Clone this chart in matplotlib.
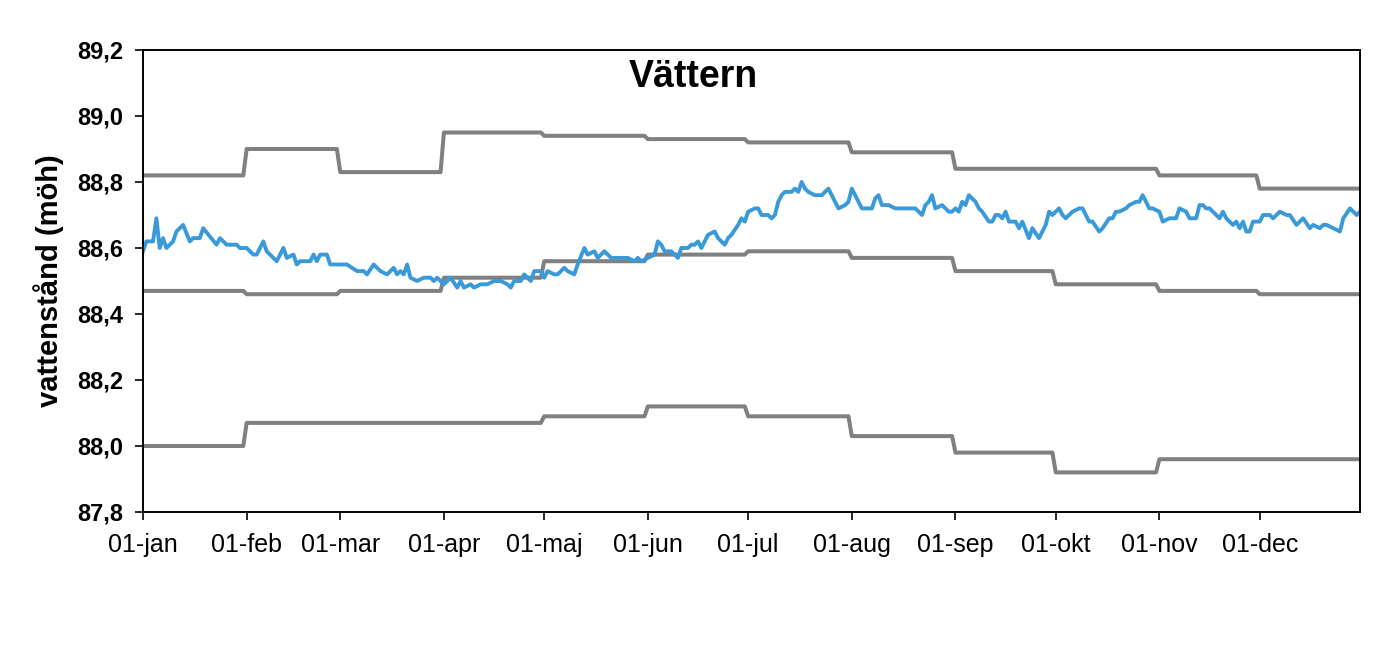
import numpy as np
import matplotlib
matplotlib.use('Agg')
import matplotlib.pyplot as plt

plt.rcParams['font.family'] = ['Liberation Sans', 'DejaVu Sans']

# månadsstart (dag på året) och etiketter
month_start = [0, 31, 59, 90, 120, 151, 181, 212, 243, 273, 304, 334]
month_len = [31, 28, 31, 30, 31, 30, 31, 31, 30, 31, 30, 31]
month_labels = ['01-jan', '01-feb', '01-mar', '01-apr', '01-maj', '01-jun',
                '01-jul', '01-aug', '01-sep', '01-okt', '01-nov', '01-dec']

# månadsvärden (möh)
max_level = [88.82, 88.90, 88.83, 88.95, 88.94, 88.93,
             88.92, 88.89, 88.84, 88.84, 88.82, 88.78]
mean_level = [88.47, 88.46, 88.47, 88.51, 88.56, 88.58,
              88.59, 88.57, 88.53, 88.49, 88.47, 88.46]
min_level = [88.00, 88.07, 88.07, 88.07, 88.09, 88.12,
             88.09, 88.03, 87.98, 87.92, 87.96, 87.96]

# aktuellt vattenstånd: dag på året och nivå (möh)
obs_day = [
    0, 1, 3, 4, 5, 6, 7, 9, 10, 12,
    14, 15, 17, 18, 22, 23, 25, 28, 29, 31,
    33, 34, 36, 37, 40, 42, 43, 45, 46, 47,
    48, 50, 51, 52, 53, 55, 56, 59, 61, 64,
    66, 67, 69, 71, 73, 75, 76, 77, 78, 79,
    80, 82, 84, 86, 87, 88, 90, 92, 94, 95,
    96, 98, 99, 101, 103, 105, 107, 109, 110, 111,
    113, 114, 116, 117, 119, 120, 121, 123, 124, 126,
    127, 129, 130, 132, 133, 135, 136, 138, 140, 141,
    143, 145, 147, 148, 149, 151, 153, 154, 155, 156,
    158, 160, 161, 163, 164, 165, 166, 167, 169, 171,
    172, 174, 175, 176, 178, 179, 180, 181, 183, 184,
    185, 187, 188, 189, 190, 191, 192, 194, 195, 196,
    197, 198, 199, 201, 202, 203, 205, 206, 207, 208,
    210, 211, 212, 214, 215, 218, 219, 220, 221, 223,
    225, 231, 233, 234, 235, 236, 237, 239, 241, 242,
    243, 244, 245, 246, 247, 249, 250, 251, 253, 254,
    255, 256, 257, 258, 259, 261, 262, 263, 265, 266,
    268, 270, 271, 272, 274, 275, 276, 278, 280, 281,
    283, 284, 286, 287, 289, 290, 291, 292, 294, 295,
    297, 298, 299, 301, 302, 304, 305, 307, 308, 309,
    310, 312, 313, 315, 316, 317, 318, 319, 320, 322,
    323, 324, 326, 327, 328, 329, 330, 331, 332, 334,
    335, 337, 338, 340, 342, 343, 345, 347, 349, 350,
    352, 353, 354, 356, 358, 359, 361, 363, 364,
]
obs_level = [
    88.59, 88.62, 88.62, 88.69, 88.60, 88.63, 88.60, 88.62, 88.65, 88.67,
    88.62, 88.63, 88.63, 88.66, 88.61, 88.63, 88.61, 88.61, 88.60, 88.60,
    88.58, 88.58, 88.62, 88.59, 88.56, 88.60, 88.57, 88.58, 88.55, 88.56,
    88.56, 88.56, 88.58, 88.56, 88.58, 88.58, 88.55, 88.55, 88.55, 88.53,
    88.53, 88.52, 88.55, 88.53, 88.52, 88.54, 88.52, 88.53, 88.52, 88.55,
    88.51, 88.50, 88.51, 88.51, 88.50, 88.51, 88.49, 88.51, 88.48, 88.50,
    88.48, 88.49, 88.48, 88.49, 88.49, 88.50, 88.50, 88.49, 88.48, 88.50,
    88.50, 88.52, 88.50, 88.53, 88.53, 88.51, 88.53, 88.52, 88.52, 88.54,
    88.53, 88.52, 88.55, 88.60, 88.58, 88.59, 88.57, 88.59, 88.57, 88.57,
    88.57, 88.57, 88.56, 88.57, 88.56, 88.57, 88.58, 88.62, 88.61, 88.59,
    88.59, 88.57, 88.60, 88.60, 88.61, 88.61, 88.62, 88.60, 88.64, 88.65,
    88.63, 88.61, 88.63, 88.64, 88.67, 88.69, 88.68, 88.71, 88.72, 88.72,
    88.70, 88.70, 88.69, 88.70, 88.74, 88.76, 88.77, 88.77, 88.78, 88.77,
    88.80, 88.78, 88.77, 88.76, 88.76, 88.76, 88.78, 88.76, 88.74, 88.72,
    88.73, 88.74, 88.78, 88.74, 88.72, 88.72, 88.75, 88.76, 88.73, 88.73,
    88.72, 88.72, 88.70, 88.73, 88.74, 88.76, 88.72, 88.73, 88.71, 88.71,
    88.72, 88.71, 88.74, 88.73, 88.76, 88.74, 88.72, 88.71, 88.68, 88.68,
    88.70, 88.70, 88.69, 88.71, 88.68, 88.68, 88.66, 88.68, 88.63, 88.66,
    88.63, 88.67, 88.71, 88.70, 88.72, 88.70, 88.69, 88.71, 88.72, 88.72,
    88.68, 88.68, 88.65, 88.66, 88.69, 88.69, 88.71, 88.71, 88.72, 88.73,
    88.74, 88.74, 88.76, 88.72, 88.72, 88.71, 88.68, 88.69, 88.69, 88.69,
    88.72, 88.71, 88.69, 88.69, 88.73, 88.73, 88.72, 88.72, 88.71, 88.69,
    88.71, 88.69, 88.67, 88.68, 88.66, 88.68, 88.65, 88.65, 88.68, 88.68,
    88.70, 88.70, 88.69, 88.71, 88.70, 88.70, 88.67, 88.69, 88.66, 88.67,
    88.66, 88.67, 88.67, 88.66, 88.65, 88.69, 88.72, 88.70, 88.71,
]

# dagliga stegkurvor från månadsvärden
days = np.arange(365)
max_daily = np.repeat(max_level, month_len)
mean_daily = np.repeat(mean_level, month_len)
min_daily = np.repeat(min_level, month_len)

fig = plt.figure(figsize=(13.88, 6.53), dpi=100)
ax = fig.add_axes([143 / 1388, 1 - 512 / 653, 1217 / 1388, 462 / 653])

grey = '#808080'
for series in (max_daily, mean_daily, min_daily):
    ax.plot(days, series, color=grey, lw=2.9, solid_joinstyle='round')
ax.plot(obs_day, obs_level, color='#3a9ad9', lw=2.8, solid_joinstyle='round')

ax.set_xlim(0, 364)
ax.set_ylim(87.8, 89.2)
ax.set_xticks(month_start)
ax.set_xticklabels(month_labels, fontsize=18)
yt = np.arange(87.8, 89.21, 0.2)
ax.set_yticks(yt)
ax.set_yticklabels([f'{v:.1f}'.replace('.', ',') for v in yt],
                   fontsize=17, fontweight='bold')
ax.tick_params(direction='out', length=6, width=1.2)
ax.tick_params(axis='y', pad=8)
ax.tick_params(axis='x', pad=9)
for sp in ax.spines.values():
    sp.set_linewidth(1.4)
    sp.set_color('black')

ax.set_ylabel('vattenstånd (möh)', fontsize=21, fontweight='bold', labelpad=10)
ax.text(0.452, 0.98, 'Vättern', transform=ax.transAxes, ha='center', va='top',
        fontsize=27, fontweight='bold')

fig.savefig('out.png', dpi=100)
